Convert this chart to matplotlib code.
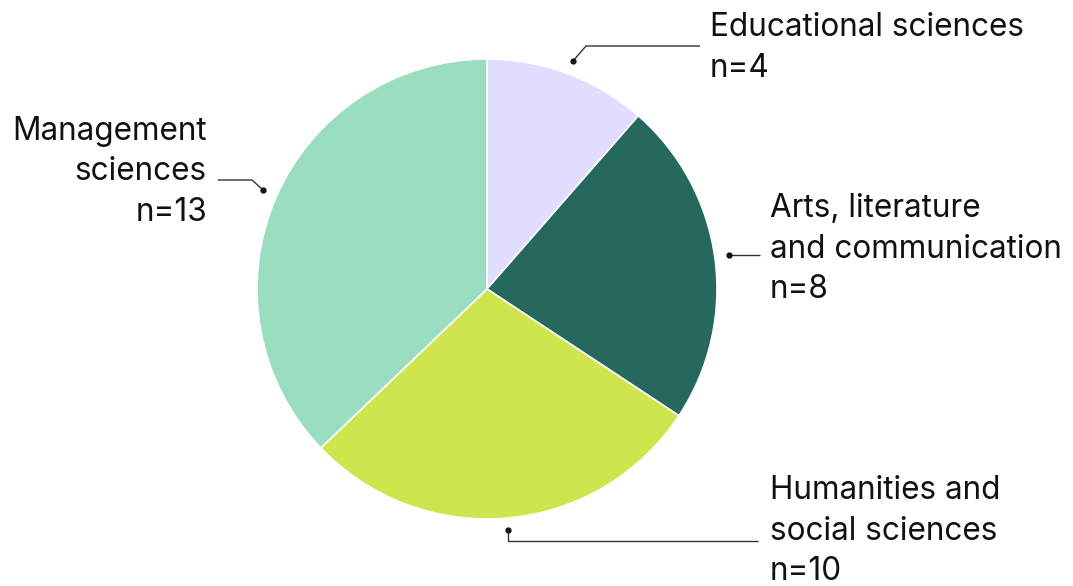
import matplotlib.pyplot as plt

# data
categories = ["Educational sciences", "Arts, literature\nand communication",
              "Humanities and\nsocial sciences", "Management\nsciences"]
counts = [4, 8, 10, 13]
colors = ["#E0DDFE", "#26685E", "#CEE54E", "#9ADDC0"]

plt.rcParams['font.family'] = ['Inter', 'DejaVu Sans']

W, H = 1073, 586
fig = plt.figure(figsize=(W / 100, H / 100), dpi=100)
ax = fig.add_axes([0, 0, 1, 1])

# pie in pixel-like coords (y measured from bottom)
ax.pie(counts, colors=colors, startangle=90, counterclock=False,
       center=(487, H - 289), radius=230, frame=True,
       wedgeprops=dict(edgecolor='white', linewidth=1.2))
ax.set_xlim(0, W)
ax.set_ylim(0, H)
ax.axis('off')

# label layout: leader path (top-down pixel coords), text anchor, alignment
leaders = [
    [(573, 61), (586, 46), (700, 46)],
    [(729, 255), (760, 255)],
    [(508, 530), (508, 541), (758, 541)],
    [(263, 190), (252, 180), (218, 180)],
]
text_pos = [(710, 48, 'left'), (770, 249, 'left'), (770, 531, 'left'), (207, 172, 'right')]

for cat, n, path, (tx, ty, ha) in zip(categories, counts, leaders, text_pos):
    xs = [p[0] for p in path]
    ys = [H - p[1] for p in path]
    ax.plot(xs, ys, color='#333333', lw=1.0, solid_capstyle='butt')
    ax.plot(xs[0], ys[0], 'o', color='#111111', ms=3.5)
    ax.text(tx, H - ty, f"{cat}\nn={n}", ha=ha, va='center', fontsize=22.7,
            color='#111111', linespacing=1.4, multialignment=ha)

fig.savefig("out.png", dpi=100)
